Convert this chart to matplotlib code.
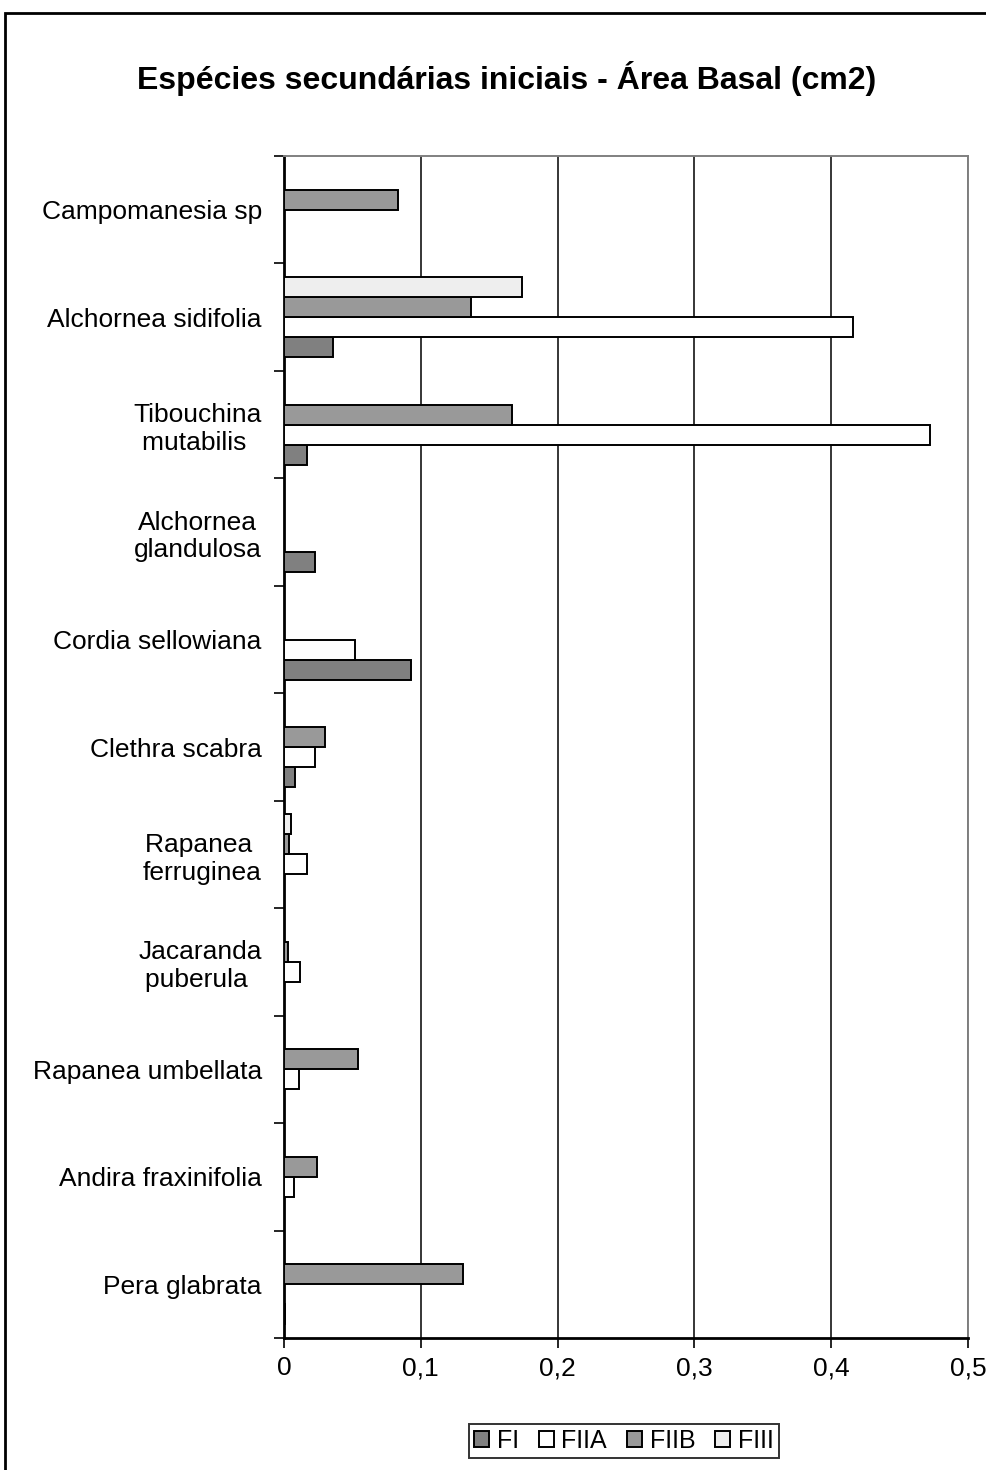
import matplotlib.pyplot as plt
import numpy as np
from matplotlib.patches import Rectangle

plt.rcParams['font.family'] = ['Liberation Sans', 'DejaVu Sans']

# species, listed top to bottom as they appear on the chart
species = ["Campomanesia sp", "Alchornea sidifolia", "Tibouchina\nmutabilis ",
           "Alchornea\nglandulosa", "Cordia sellowiana", "Clethra scabra",
           "Rapanea \nferruginea", "Jacaranda\npuberula ", "Rapanea umbellata",
           "Andira fraxinifolia", "Pera glabrata"]

fi = [0, 0.036, 0.017, 0.023, 0.093, 0.008, 0, 0, 0, 0, 0.001]
fiia = [0, 0.416, 0.472, 0, 0.052, 0.023, 0.017, 0.012, 0.011, 0.007, 0]
fiib = [0.083, 0.137, 0.167, 0, 0, 0.030, 0.004, 0.003, 0.054, 0.024, 0.131]
fiii = [0, 0.174, 0, 0, 0, 0, 0.005, 0, 0, 0, 0]

series = ["FI", "FIIA", "FIIB", "FIII"]
colors = ["#808080", "#ffffff", "#999999", "#eeeeee"]

fig = plt.figure(figsize=(9.87, 14.7), dpi=100)
ax = fig.add_axes([284 / 987, 1 - 1338 / 1470, 684 / 987, 1182 / 1470])

n = len(species)
ypos = np.arange(n)[::-1]
h = 0.186
for k, (vals, c, name) in enumerate(zip([fi, fiia, fiib, fiii], colors, series)):
    off = (k - 1.5) * h
    ax.barh(ypos + off, vals, height=h, color=c, edgecolor="black",
            linewidth=1.4, label=name, zorder=3)

ax.set_xlim(0, 0.5)
ax.set_ylim(-0.5, n - 0.5)
ax.set_xticks(np.arange(0, 0.51, 0.1))
ax.set_xticklabels(["0", "0,1", "0,2", "0,3", "0,4", "0,5"], fontsize=19)
ax.tick_params(axis="x", length=7, width=1.2, pad=6)
ax.xaxis.grid(True, color="black", linewidth=1.1, zorder=0)

# ticks between categories, labels centred on each group
ax.set_yticks(np.arange(-0.5, n, 1.0))
ax.set_yticklabels([])
ax.tick_params(axis="y", which="major", length=7, width=1.2)
ax.set_yticks(ypos, minor=True)
ax.set_yticklabels(species, minor=True, fontsize=19, multialignment="center")
ax.tick_params(axis="y", which="minor", length=0, pad=16)

for s in ["left", "bottom"]:
    ax.spines[s].set_linewidth(2)
for s in ["top", "right"]:
    ax.spines[s].set_color("#808080")
    ax.spines[s].set_linewidth(1.4)

fig.text(507 / 987, 1 - 78 / 1470, "Espécies secundárias iniciais - Área Basal (cm2)",
         fontsize=23, fontweight="bold", ha="center", va="center")

leg = ax.legend(loc="center", bbox_to_anchor=(624 / 987, 1 - 1441 / 1470),
                bbox_transform=fig.transFigure, ncol=4, fontsize=18,
                frameon=True, fancybox=False, edgecolor="black",
                handlelength=0.6, handleheight=0.6, handletextpad=0.3,
                columnspacing=0.8, borderpad=0.2, borderaxespad=0)
leg.get_frame().set_linewidth(1.4)

fig.patches.append(Rectangle((5 / 987, -0.1), 1.2, 1.1 - 13 / 1470,
                             transform=fig.transFigure, fill=False,
                             edgecolor="black", linewidth=2))

fig.savefig("out.png", dpi=100)
